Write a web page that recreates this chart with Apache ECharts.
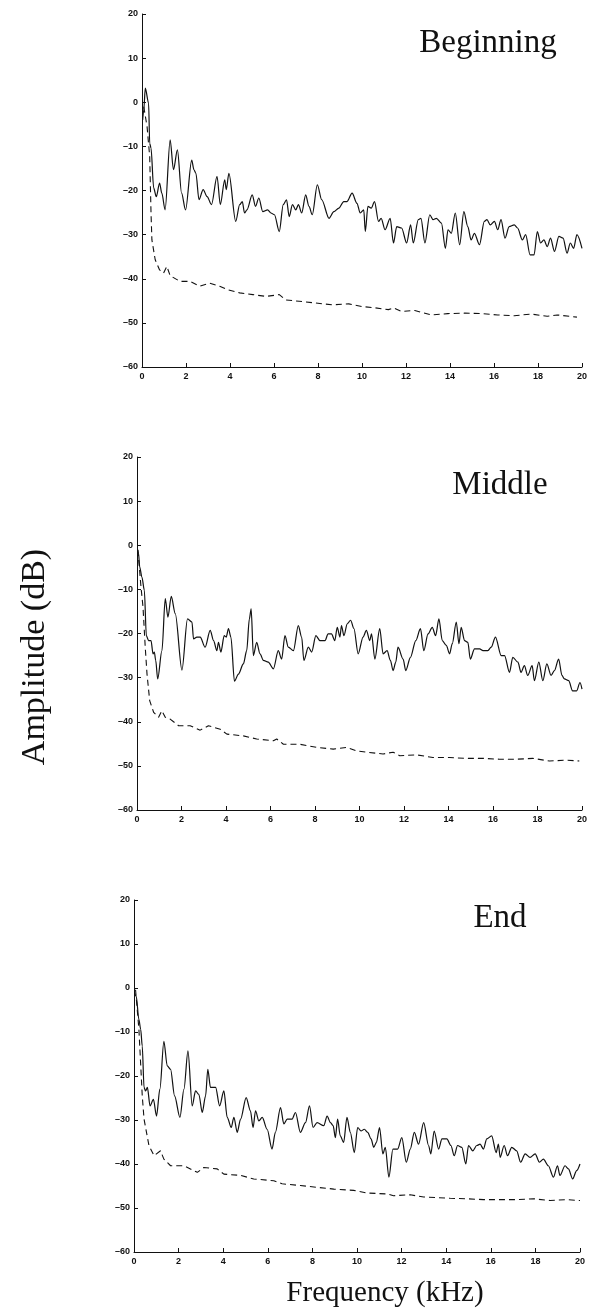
<!DOCTYPE html>
<html><head><meta charset="utf-8">
<script src="https://cdn.jsdelivr.net/npm/echarts@6/dist/echarts.min.js"></script>
<style>html,body{margin:0;padding:0;background:#fff}#c{width:590px;height:1314px}</style>
</head><body><div id="c"></div>
<script>
// x ticks (kHz) and y ticks (dB)
const xTicks = [0,2,4,6,8,10,12,14,16,18,20];
const yTicks = [-60,-50,-40,-30,-20,-10,0,10,20];
const panelTitles = ['Beginning','Middle','End'];

// [frequency kHz, amplitude dB]
const begSolid = [[0.03,-4],[0.08,-1.7],[0.15,3.2],[0.30,-0.2],[0.35,-9.3],[0.41,-10.4],[0.53,-19.4],[0.65,-21.4],[0.80,-18.3],[0.90,-20.6],[1.05,-24.4],[1.28,-8.5],[1.43,-15.3],[1.61,-10.8],[1.80,-20.6],[1.98,-24.4],[2.26,-13.1],[2.36,-15.3],[2.45,-16.1],[2.59,-22.1],[2.78,-19.8],[2.96,-21.4],[3.16,-23.2],[3.41,-16.8],[3.56,-23.2],[3.76,-17.6],[3.83,-19.8],[3.95,-16.1],[4.26,-27.0],[4.44,-23.2],[4.56,-22.5],[4.66,-25.1],[4.77,-24.4],[5.01,-21.0],[5.16,-23.6],[5.31,-21.7],[5.49,-24.8],[5.71,-24.4],[5.86,-25.1],[6.02,-25.5],[6.24,-29.3],[6.42,-23.2],[6.57,-22.1],[6.69,-25.9],[6.84,-23.2],[6.99,-24.4],[7.11,-23.2],[7.26,-25.1],[7.44,-21.0],[7.59,-23.6],[7.74,-25.5],[7.97,-18.7],[8.17,-22.1],[8.50,-26.3],[8.72,-24.8],[8.95,-24.0],[9.17,-22.5],[9.32,-22.5],[9.55,-20.6],[9.77,-22.9],[9.92,-25.1],[10.08,-24.4],[10.15,-29.3],[10.27,-23.6],[10.42,-24.0],[10.57,-22.5],[10.75,-27.0],[10.87,-26.3],[11.05,-28.9],[11.28,-26.3],[11.43,-31.9],[11.58,-28.2],[11.80,-28.5],[12.03,-31.9],[12.21,-27.8],[12.33,-31.9],[12.56,-26.6],[12.68,-26.3],[12.86,-31.9],[13.08,-25.5],[13.23,-26.6],[13.38,-26.3],[13.61,-27.4],[13.79,-33.1],[13.91,-28.9],[14.06,-29.7],[14.24,-25.1],[14.44,-32.3],[14.63,-24.8],[14.81,-28.2],[14.96,-31.2],[15.11,-29.7],[15.34,-32.3],[15.56,-27.0],[15.68,-26.6],[15.83,-27.8],[16.02,-27.0],[16.17,-28.9],[16.32,-26.6],[16.50,-30.8],[16.69,-28.2],[16.92,-27.8],[17.07,-28.5],[17.29,-31.2],[17.44,-30.0],[17.64,-34.6],[17.82,-34.6],[17.97,-29.3],[18.12,-31.9],[18.27,-31.2],[18.42,-32.7],[18.57,-30.8],[18.75,-33.8],[18.95,-30.4],[19.14,-30.8],[19.32,-34.2],[19.47,-31.9],[19.62,-33.1],[19.77,-30.0],[20.00,-33.1]];
const begDashed = [[0.08,-1.0],[0.23,-5.5],[0.35,-12.3],[0.41,-25.1],[0.45,-31.2],[0.60,-35.7],[0.80,-38.0],[0.98,-38.7],[1.13,-37.2],[1.28,-39.3],[1.73,-40.6],[2.18,-40.6],[2.63,-41.7],[3.08,-41.0],[3.53,-41.7],[3.91,-42.5],[4.44,-43.2],[5.04,-43.6],[5.64,-44.0],[6.24,-43.6],[6.54,-44.8],[7.14,-45.1],[7.89,-45.5],[8.65,-45.9],[9.40,-45.7],[10.0,-46.3],[10.6,-46.6],[11.2,-47.0],[11.43,-46.6],[11.8,-47.4],[12.4,-47.2],[12.86,-47.8],[13.16,-48.2],[13.9,-47.9],[14.66,-47.8],[15.41,-47.9],[16.17,-48.2],[16.92,-48.4],[17.67,-48.0],[18.42,-48.5],[18.87,-48.2],[19.77,-48.7]];
const midSolid = [[0.03,-1.0],[0.07,-1.9],[0.12,-4.9],[0.22,-7.2],[0.33,-10.2],[0.42,-20.5],[0.52,-21.6],[0.63,-21.6],[0.72,-24.6],[0.78,-24.2],[0.84,-26.1],[0.93,-30.3],[1.12,-23.9],[1.27,-12.1],[1.39,-16.3],[1.54,-11.6],[1.72,-15.5],[2.02,-28.3],[2.27,-16.7],[2.47,-17.4],[2.54,-21.2],[2.69,-20.8],[2.84,-20.8],[3.06,-23.1],[3.29,-19.3],[3.44,-21.6],[3.59,-23.9],[3.66,-22.0],[3.77,-24.2],[3.92,-20.5],[4.01,-20.8],[4.11,-18.9],[4.22,-20.8],[4.38,-30.8],[4.56,-29.2],[4.78,-26.9],[4.93,-23.9],[5.05,-16.7],[5.13,-14.4],[5.23,-25.0],[5.38,-22.0],[5.53,-24.6],[5.68,-26.1],[5.90,-26.5],[6.13,-28.0],[6.35,-23.9],[6.50,-25.8],[6.65,-20.5],[6.80,-23.1],[7.03,-23.9],[7.25,-18.2],[7.40,-20.8],[7.50,-26.1],[7.70,-23.1],[7.85,-24.2],[8.04,-20.5],[8.22,-21.6],[8.45,-21.6],[8.59,-20.1],[8.74,-20.1],[8.89,-21.6],[9.00,-18.6],[9.12,-20.8],[9.19,-18.2],[9.30,-20.5],[9.45,-17.8],[9.60,-17.0],[9.75,-18.9],[9.94,-24.6],[10.16,-20.8],[10.31,-19.3],[10.46,-21.6],[10.54,-20.1],[10.69,-25.8],[10.91,-18.9],[11.06,-24.6],[11.24,-23.9],[11.39,-26.1],[11.51,-28.4],[11.63,-26.5],[11.73,-23.1],[11.96,-25.8],[12.08,-28.4],[12.29,-25.4],[12.53,-21.6],[12.74,-18.9],[12.89,-23.9],[13.08,-20.1],[13.27,-18.6],[13.42,-20.5],[13.57,-16.7],[13.72,-21.6],[13.90,-22.7],[14.05,-24.6],[14.17,-22.3],[14.35,-17.4],[14.47,-22.3],[14.57,-18.6],[14.72,-21.6],[14.87,-22.0],[14.98,-25.8],[15.17,-23.5],[15.40,-23.5],[15.55,-23.9],[15.77,-23.9],[15.92,-23.1],[16.11,-20.8],[16.37,-25.0],[16.52,-25.0],[16.74,-28.8],[16.89,-25.4],[17.12,-26.5],[17.26,-28.8],[17.41,-27.3],[17.56,-29.5],[17.76,-27.3],[17.86,-30.7],[18.06,-26.5],[18.24,-30.7],[18.42,-26.9],[18.61,-29.5],[18.76,-28.4],[18.95,-25.8],[19.10,-29.5],[19.21,-30.3],[19.40,-30.7],[19.58,-33.0],[19.76,-33.0],[19.91,-31.1],[20.00,-32.6]];
const midDashed = [[0.04,-1.1],[0.18,-9.5],[0.27,-14.0],[0.37,-23.1],[0.45,-29.2],[0.57,-35.2],[0.75,-37.9],[0.97,-39.0],[1.12,-37.5],[1.27,-39.0],[1.49,-39.4],[1.87,-40.9],[2.39,-40.9],[2.84,-41.9],[3.21,-40.9],[3.74,-41.7],[4.04,-42.8],[4.78,-43.2],[5.38,-43.9],[6.13,-44.3],[6.28,-43.9],[6.58,-45.1],[7.32,-45.1],[8.07,-45.8],[8.82,-46.2],[9.42,-45.8],[9.87,-46.6],[10.31,-46.9],[11.06,-47.3],[11.51,-46.9],[11.81,-47.7],[12.56,-47.5],[13.30,-48.1],[14.05,-48.1],[14.80,-48.3],[15.55,-48.3],[16.29,-48.5],[17.04,-48.5],[17.79,-48.3],[18.54,-48.9],[19.28,-48.7],[19.88,-48.9]];
const endSolid = [[0.03,-1.1],[0.10,-1.9],[0.22,-7.2],[0.30,-9.4],[0.37,-13.2],[0.45,-22.6],[0.52,-23.4],[0.60,-22.6],[0.72,-26.8],[0.87,-25.3],[1.01,-29.1],[1.16,-23.0],[1.34,-12.1],[1.49,-17.7],[1.64,-18.5],[1.82,-24.5],[2.06,-29.4],[2.24,-23.0],[2.42,-14.3],[2.61,-26.8],[2.76,-23.4],[2.91,-24.2],[3.06,-28.3],[3.21,-24.5],[3.31,-18.5],[3.43,-22.6],[3.66,-22.6],[3.84,-26.8],[4.03,-23.4],[4.18,-29.4],[4.36,-31.7],[4.48,-29.4],[4.63,-32.8],[4.78,-29.8],[5.03,-24.9],[5.22,-27.9],[5.34,-31.7],[5.45,-27.9],[5.60,-30.2],[5.75,-29.4],[5.97,-32.1],[6.19,-36.6],[6.34,-32.8],[6.57,-27.2],[6.72,-30.9],[6.87,-29.8],[7.09,-29.8],[7.24,-28.3],[7.46,-32.8],[7.69,-30.6],[7.87,-26.8],[8.03,-31.7],[8.21,-30.6],[8.51,-31.3],[8.66,-29.1],[8.81,-30.6],[8.93,-31.3],[9.03,-34.0],[9.13,-29.8],[9.25,-33.6],[9.40,-35.1],[9.55,-29.4],[9.70,-32.8],[9.88,-37.4],[10.03,-31.7],[10.18,-32.5],[10.33,-32.1],[10.48,-32.8],[10.63,-34.3],[10.75,-36.2],[10.87,-35.1],[11.01,-31.7],[11.16,-37.7],[11.27,-36.2],[11.43,-43.0],[11.61,-36.6],[11.82,-36.6],[12.01,-34.0],[12.21,-39.6],[12.39,-36.6],[12.57,-32.8],[12.76,-35.5],[12.99,-30.6],[13.21,-35.8],[13.31,-37.7],[13.46,-32.5],[13.66,-36.6],[13.81,-34.3],[14.03,-34.3],[14.21,-35.8],[14.36,-38.1],[14.51,-35.8],[14.70,-36.2],[14.88,-40.0],[15.00,-35.8],[15.19,-37.0],[15.37,-35.8],[15.52,-35.5],[15.67,-36.6],[15.82,-34.3],[16.04,-33.6],[16.24,-37.4],[16.34,-35.5],[16.42,-38.5],[16.60,-35.8],[16.75,-38.1],[16.94,-36.2],[17.16,-37.0],[17.34,-39.6],[17.54,-37.7],[17.76,-38.5],[17.99,-37.7],[18.18,-39.6],[18.36,-38.9],[18.58,-40.4],[18.81,-43.0],[18.99,-40.4],[19.10,-42.6],[19.33,-40.4],[19.48,-41.1],[19.67,-43.4],[19.85,-41.5],[20.00,-40.0]];
const endDashed = [[0.07,-0.4],[0.22,-9.4],[0.37,-24.5],[0.45,-29.8],[0.67,-35.8],[0.90,-38.1],[1.19,-37.0],[1.34,-38.9],[1.64,-40.4],[2.24,-40.4],[2.84,-41.9],[3.13,-40.8],[3.73,-41.1],[4.03,-42.3],[4.78,-42.6],[5.37,-43.4],[6.27,-43.8],[6.64,-44.5],[7.46,-44.9],[8.21,-45.3],[8.96,-45.7],[9.85,-46.0],[10.45,-46.6],[11.34,-46.8],[11.64,-47.2],[12.39,-47.0],[12.99,-47.5],[14.18,-47.8],[14.93,-47.9],[15.67,-48.1],[16.42,-48.1],[17.16,-48.1],[17.91,-47.9],[18.66,-48.3],[19.40,-48.1],[20.00,-48.3]];

const solids = [begSolid, midSolid, endSolid];
const dashes = [begDashed, midDashed, endDashed];

const grids = [
  {left:142, top:14, width:443, height:353},
  {left:137, top:457, width:446, height:353},
  {left:134, top:900, width:446, height:352}
];
const titlePos = [[488,43],[500,485],[500,918]];

const ink = '#111';
const tickFont = {color:ink, fontSize:9, fontWeight:'bold', fontFamily:'Liberation Sans, Arial, sans-serif'};
const serif = 'Liberation Serif, Times New Roman, serif';

const option = {
  backgroundColor:'#fff',
  animation:false,
  grid: grids,
  xAxis: grids.map((g,i)=>({
    gridIndex:i, type:'value', min:xTicks[0], max:xTicks[xTicks.length-1], interval:2,
    axisLine:{show:true, onZero:false, lineStyle:{color:ink, width:1}},
    axisTick:{show:true, inside:true, length:4, lineStyle:{color:ink}},
    axisLabel:Object.assign({margin:5}, tickFont),
    splitLine:{show:false}
  })),
  yAxis: grids.map((g,i)=>({
    gridIndex:i, type:'value', min:yTicks[0], max:yTicks[yTicks.length-1], interval:10,
    axisLine:{show:true, onZero:false, lineStyle:{color:ink, width:1}},
    axisTick:{show:true, inside:true, length:4, lineStyle:{color:ink}},
    axisLabel:Object.assign({margin:4, formatter:v=>String(v).replace('-','\u2013')}, tickFont),
    splitLine:{show:false}
  })),
  series: [].concat(
    solids.map((d,i)=>({type:'line', xAxisIndex:i, yAxisIndex:i, data:d, showSymbol:false, symbol:'none',
      smooth:0.3, smoothMonotone:'x',
      lineStyle:{color:ink, width:1.2}, clip:true})),
    dashes.map((d,i)=>({type:'line', xAxisIndex:i, yAxisIndex:i, data:d, showSymbol:false, symbol:'none',
      lineStyle:{color:ink, width:1.1, type:[6,4]}, clip:true}))
  ),
  graphic: [].concat(
    panelTitles.map((t,i)=>({type:'text', x:titlePos[i][0], y:titlePos[i][1],
      style:{text:t, fill:ink, font:'33px '+serif, textAlign:'center', textVerticalAlign:'middle'}})),
    [{type:'text', x:385, y:1293, style:{text:'Frequency (kHz)', fill:ink, font:'29px '+serif, textAlign:'center', textVerticalAlign:'middle'}},
     {type:'text', x:35, y:657, rotation:Math.PI/2, style:{text:'Amplitude (dB)', fill:ink, font:'34px '+serif, textAlign:'center', textVerticalAlign:'middle'}}]
  )
};
const chart = echarts.init(document.getElementById('c'), null, {renderer:'canvas'});
chart.setOption(option);
</script></body></html>
